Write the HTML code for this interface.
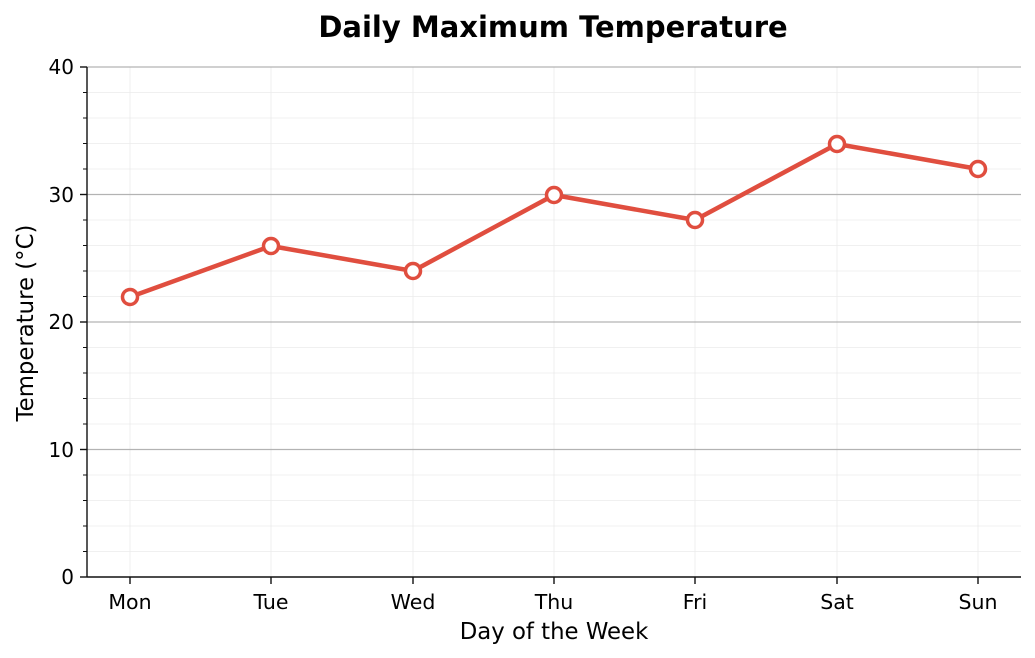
<!DOCTYPE html>
<html><head><meta charset="utf-8"><style>body{margin:0;background:#fff}svg{display:block}text{font-family:"DejaVu Sans","Liberation Sans",sans-serif;fill:#000}</style></head>
<body>
<svg width="1035" height="658" viewBox="0 0 1035 658">
<g stroke="#ebebeb" stroke-width="0.8">
<line x1="87" x2="1021" y1="551.5" y2="551.5"/><line x1="87" x2="1021" y1="526" y2="526"/><line x1="87" x2="1021" y1="500.5" y2="500.5"/><line x1="87" x2="1021" y1="475" y2="475"/>
<line x1="87" x2="1021" y1="424" y2="424"/><line x1="87" x2="1021" y1="398.5" y2="398.5"/><line x1="87" x2="1021" y1="373" y2="373"/><line x1="87" x2="1021" y1="347.5" y2="347.5"/>
<line x1="87" x2="1021" y1="296.5" y2="296.5"/><line x1="87" x2="1021" y1="271" y2="271"/><line x1="87" x2="1021" y1="245.5" y2="245.5"/><line x1="87" x2="1021" y1="220" y2="220"/>
<line x1="87" x2="1021" y1="169" y2="169"/><line x1="87" x2="1021" y1="143.5" y2="143.5"/><line x1="87" x2="1021" y1="118" y2="118"/><line x1="87" x2="1021" y1="92.5" y2="92.5"/>
<line y1="67" y2="577" x1="130" x2="130"/><line y1="67" y2="577" x1="271" x2="271"/><line y1="67" y2="577" x1="413" x2="413"/><line y1="67" y2="577" x1="554" x2="554"/><line y1="67" y2="577" x1="695" x2="695"/><line y1="67" y2="577" x1="837" x2="837"/><line y1="67" y2="577" x1="978" x2="978"/>
</g>
<g stroke="#b3b3b3" stroke-width="1.2">
<line x1="87" x2="1021" y1="67" y2="67"/><line x1="87" x2="1021" y1="194.5" y2="194.5"/><line x1="87" x2="1021" y1="322" y2="322"/><line x1="87" x2="1021" y1="449.5" y2="449.5"/>
</g>
<g stroke="#111" stroke-width="1.4">
<line x1="87" x2="87" y1="67" y2="577.5"/><line x1="87" x2="1021" y1="577" y2="577"/>
<line x1="80" x2="87" y1="67" y2="67"/><line x1="80" x2="87" y1="194.5" y2="194.5"/><line x1="80" x2="87" y1="322" y2="322"/><line x1="80" x2="87" y1="449.5" y2="449.5"/><line x1="80" x2="87" y1="577" y2="577"/>
<line x1="130" x2="130" y1="577" y2="584"/><line x1="271" x2="271" y1="577" y2="584"/><line x1="413" x2="413" y1="577" y2="584"/><line x1="554" x2="554" y1="577" y2="584"/><line x1="695" x2="695" y1="577" y2="584"/><line x1="837" x2="837" y1="577" y2="584"/><line x1="978" x2="978" y1="577" y2="584"/>
</g>
<g stroke="#111" stroke-width="1">
<line x1="83" x2="87" y1="551.5" y2="551.5"/><line x1="83" x2="87" y1="526" y2="526"/><line x1="83" x2="87" y1="500.5" y2="500.5"/><line x1="83" x2="87" y1="475" y2="475"/>
<line x1="83" x2="87" y1="424" y2="424"/><line x1="83" x2="87" y1="398.5" y2="398.5"/><line x1="83" x2="87" y1="373" y2="373"/><line x1="83" x2="87" y1="347.5" y2="347.5"/>
<line x1="83" x2="87" y1="296.5" y2="296.5"/><line x1="83" x2="87" y1="271" y2="271"/><line x1="83" x2="87" y1="245.5" y2="245.5"/><line x1="83" x2="87" y1="220" y2="220"/>
<line x1="83" x2="87" y1="169" y2="169"/><line x1="83" x2="87" y1="143.5" y2="143.5"/><line x1="83" x2="87" y1="118" y2="118"/><line x1="83" x2="87" y1="92.5" y2="92.5"/>
</g>
<g font-size="20" text-anchor="end">
<text x="74" y="74">40</text><text x="74" y="202">30</text><text x="74" y="329">20</text><text x="74" y="457">10</text><text x="74" y="584">0</text>
</g>
<g font-size="20.5" text-anchor="middle">
<text x="130" y="609">Mon</text><text x="271" y="609">Tue</text><text x="413" y="609">Wed</text><text x="554" y="609">Thu</text><text x="695" y="609">Fri</text><text x="837" y="609">Sat</text><text x="978" y="609">Sun</text>
<text x="554" y="639" font-size="22.8">Day of the Week</text>
<text x="553" y="37" font-size="29" font-weight="bold">Daily Maximum Temperature</text>
<text transform="translate(33 323) rotate(-90)" font-size="22.8">Temperature (°C)</text>
</g>
<polyline fill="none" stroke="#e04e3f" stroke-width="4.5" stroke-linejoin="round" points="130,297 271,246 413,271 554,195 695,220 837,144 978,169"/>
<g fill="#fff" stroke="#e04e3f" stroke-width="3.5">
<circle cx="130" cy="297" r="7.5"/><circle cx="271" cy="246" r="7.5"/><circle cx="413" cy="271" r="7.5"/><circle cx="554" cy="195" r="7.5"/><circle cx="695" cy="220" r="7.5"/><circle cx="837" cy="144" r="7.5"/><circle cx="978" cy="169" r="7.5"/>
</g>
</svg>
</body></html>
